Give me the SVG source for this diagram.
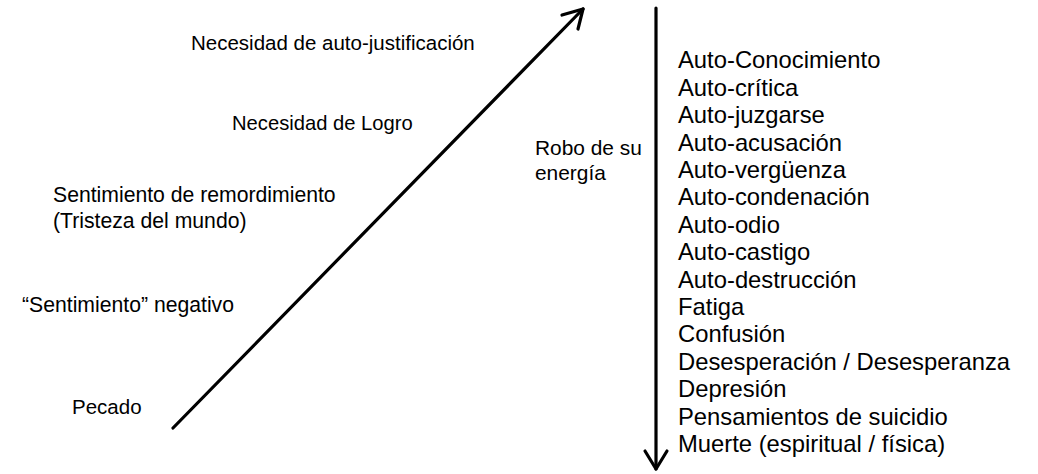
<svg xmlns="http://www.w3.org/2000/svg" width="1038" height="474" viewBox="0 0 1038 474">
<style>
text { font-family: "Liberation Sans", Arial, sans-serif; fill: #000; }
.l { font-size: 20.5px; }
.s { font-size: 21.2px; }
.r { font-size: 23.8px; }
.ln { stroke: #000; stroke-width: 3.2; fill: none; stroke-linecap: round; stroke-linejoin: round; }
</style>
<rect width="1038" height="474" fill="#fff"/>
<g id="connectors">
  <path class="ln" d="M173,428 L583,9"/>
  <path class="ln" d="M562,15 L583,9 L578,29"/>
  <path class="ln" d="M656,8 L656,469"/>
  <path class="ln" d="M645,451 L656,469 L667,451"/>
</g>
<g id="left-labels">
  <g id="n-autojust"><text class="l" x="191" y="50" font-size="20.3">Necesidad de auto-justificación</text></g>
  <g id="n-logro"><text class="l" x="232" y="130" style="font-size:20.2px">Necesidad de Logro</text></g>
  <g id="n-remord"><text class="s" x="53" y="202">Sentimiento de remordimiento</text><text class="s" x="53" y="228">(Tristeza del mundo)</text></g>
  <g id="n-negativo"><text class="s" x="22" y="312">“Sentimiento” negativo</text></g>
  <g id="n-pecado"><text class="l" x="72" y="414">Pecado</text></g>
</g>
<g id="n-robo"><text class="l" x="535" y="155" style="font-size:20.9px">Robo de su</text><text class="l" x="535" y="180" style="font-size:20.9px">energía</text></g>
<g id="n-list">
  <text class="r" x="678" y="68.3">Auto-Conocimiento</text>
  <text class="r" x="678" y="95.7">Auto-crítica</text>
  <text class="r" x="678" y="123.1">Auto-juzgarse</text>
  <text class="r" x="678" y="150.5">Auto-acusación</text>
  <text class="r" x="678" y="177.9">Auto-vergüenza</text>
  <text class="r" x="678" y="205.3">Auto-condenación</text>
  <text class="r" x="678" y="232.7">Auto-odio</text>
  <text class="r" x="678" y="260.1">Auto-castigo</text>
  <text class="r" x="678" y="287.5">Auto-destrucción</text>
  <text class="r" x="678" y="314.9">Fatiga</text>
  <text class="r" x="678" y="342.3">Confusión</text>
  <text class="r" x="678" y="369.7">Desesperación / Desesperanza</text>
  <text class="r" x="678" y="397.1">Depresión</text>
  <text class="r" x="678" y="424.5">Pensamientos de suicidio</text>
  <text class="r" x="678" y="451.9">Muerte (espiritual / física)</text>
</g>
</svg>
